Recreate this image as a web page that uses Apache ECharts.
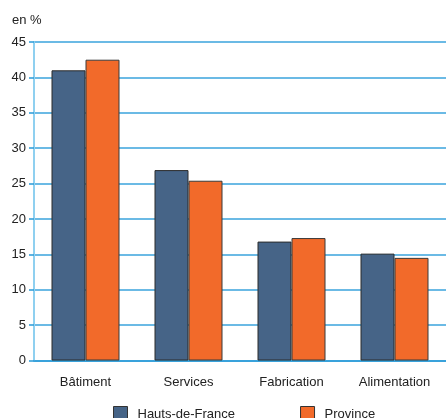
<!DOCTYPE html>
<html><head><meta charset="utf-8">
<script src="https://cdn.jsdelivr.net/npm/echarts@6/dist/echarts.min.js"></script>
<style>html,body{margin:0;padding:0;background:#fff}#c{width:446px;height:418px}</style>
</head><body><div id="c"></div>
<script>
const categories = ['Bâtiment', 'Services', 'Fabrication', 'Alimentation'];
const hautsDeFrance = [41.0, 26.9, 16.8, 15.1];
const province = [42.5, 25.4, 17.3, 14.5];
const seriesNames = ['Hauts-de-France', 'Province'];
const yTitle = 'en %';

const chart = echarts.init(document.getElementById('c'));
const font = '"Liberation Sans", Arial, sans-serif';
chart.setOption({
  animation: false,
  textStyle: { fontFamily: font },
  title: { text: yTitle, left: 7, top: 9, textStyle: { fontSize: 13, fontWeight: 'normal', color: '#222', fontFamily: font } },
  grid: { left: 34, right: -2, top: 42, bottom: 57.5 },
  legend: {
    data: seriesNames, left: 108, top: 401, icon: 'rect', itemWidth: 14, itemHeight: 15, itemGap: 65,
    textStyle: { fontSize: 13, color: '#222', fontFamily: font, padding: [0, 0, 0, 5] },
    itemStyle: { borderColor: '#333', borderWidth: 1 }
  },
  xAxis: {
    type: 'category', data: categories,
    axisLine: { lineStyle: { color: '#2a9ad8', width: 1.5 } },
    axisTick: { show: false },
    axisLabel: { color: '#222', fontSize: 13, margin: 15, fontFamily: font }
  },
  yAxis: {
    type: 'value', min: 0, max: 45, interval: 5,
    axisLine: { show: true, lineStyle: { color: '#8fd0f0', width: 2 } },
    axisTick: { show: true, length: 5, lineStyle: { color: '#2a9ad8', width: 1.5 } },
    axisLabel: { color: '#222', fontSize: 13, margin: 8, fontFamily: font },
    splitLine: { lineStyle: { color: '#3aa3dc', width: 1.5 } }
  },
  series: [
    { name: seriesNames[0], type: 'bar', data: hautsDeFrance, barWidth: 34, barGap: '0%',
      itemStyle: { color: '#466487', borderColor: '#2b2b2b', borderWidth: 1 } },
    { name: seriesNames[1], type: 'bar', data: province, barWidth: 34,
      itemStyle: { color: '#f26a2a', borderColor: '#3a3a3a', borderWidth: 1 } }
  ]
});
</script></body></html>
